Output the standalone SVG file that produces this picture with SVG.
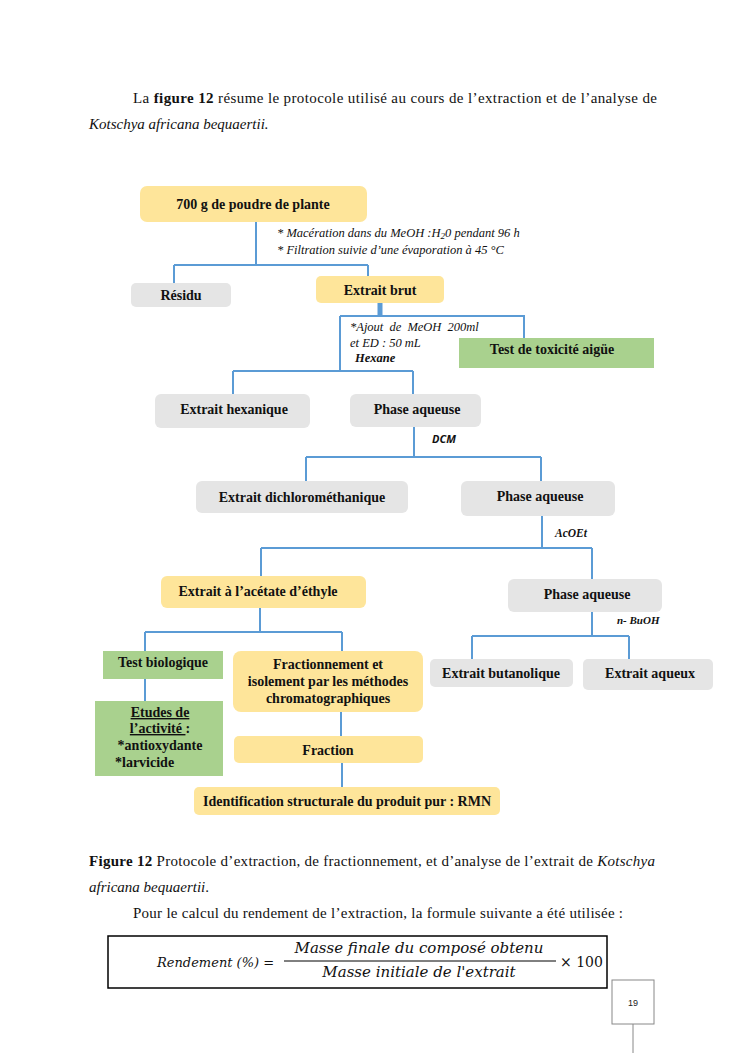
<svg xmlns="http://www.w3.org/2000/svg" width="745" height="1053" viewBox="0 0 745 1053">
<style>
.body{font-family:"Liberation Serif",serif;font-size:15px;fill:#111}
.n{font-family:"Liberation Serif",serif;font-size:14px;font-weight:bold;fill:#111;text-anchor:middle}
.note{font-family:"Liberation Serif",serif;font-size:12.5px;font-style:italic;fill:#111}
.y{fill:#FEE59A}
.g{fill:#E5E5E5}
.gr{fill:#A9D18E}
.c{stroke:#5B9BD5;stroke-width:2;fill:none}
.math{font-family:"DejaVu Serif","Liberation Serif",serif;font-style:italic;font-size:15px;fill:#111}
</style>
<rect width="745" height="1053" fill="#fff"/>
<text class="body" x="133" y="103" textLength="524" lengthAdjust="spacing">La <tspan font-weight="bold">figure 12</tspan> résume le protocole utilisé  au cours de  l’extraction et de l’analyse de</text>
<text class="body" x="89" y="129" font-style="italic">Kotschya africana bequaertii.</text>

<g id="connectors">
<path class="c" d="M256 222V265M174 265H368M174 265V283M368 265V276"/>
<path d="M380 303V316" stroke="#5B9BD5" stroke-width="5" fill="none"/>
<path class="c" d="M340 316H524V338M340 316V371M233 371H413M233 371V394M413 371V394"/>
<path class="c" d="M414 427V457M306 457H541M306 457V481M541 457V481"/>
<path class="c" d="M542 516V548M261 548H592M261 548V576M592 548V579"/>
<path class="c" d="M260 608V632M145 632H342M145 632V651M342 632V651"/>
<path class="c" d="M592 612V636M472 636H629M472 636V659M629 636V659"/>
<path class="c" d="M145 679V701M341 712V736M342 763V787"/>
</g>

<g id="n-poudre"><rect class="y" x="140" y="186" width="227" height="36" rx="7"/><text class="n" x="253" y="209">700 g de poudre de plante</text></g>
<g id="note1">
<text class="note" x="277" y="237">*  Macération dans du MeOH :H<tspan font-size="9" dy="2">2</tspan><tspan dy="-2">0 pendant 96 h</tspan></text>
<text class="note" x="277" y="254">*  Filtration suivie d’une évaporation à 45 °C</text>
</g>
<g id="n-residu"><rect class="g" x="131" y="283" width="100" height="24" rx="5"/><text class="n" x="181" y="300">Résidu</text></g>
<g id="n-brut"><rect class="y" x="316" y="276" width="128" height="27" rx="5"/><text class="n" x="380" y="295">Extrait brut</text></g>
<g id="note2">
<text class="note" x="350" y="331" word-spacing="3">*Ajout de MeOH 200ml</text>
<text class="note" x="350" y="347">et ED : 50 mL</text>
<text class="note" x="355" y="362" font-weight="bold">Hexane</text>
</g>
<g id="n-toxicite"><rect class="gr" x="459" y="338" width="195" height="30"/><text class="n" x="552" y="354">Test de toxicité  aigüe</text></g>
<g id="n-hexanique"><rect class="g" x="155" y="394" width="155" height="34" rx="6"/><text class="n" x="234" y="414">Extrait hexanique</text></g>
<g id="n-pa1"><rect class="g" x="350" y="394" width="131" height="33" rx="6"/><text class="n" x="417" y="414">Phase aqueuse</text></g>
<text x="432" y="443" font-family="'Open Sans','Liberation Sans',sans-serif" font-size="11" font-weight="bold" font-style="italic" fill="#111">DCM</text>
<g id="n-dcm"><rect class="g" x="196" y="481" width="212" height="32" rx="6"/><text class="n" x="302" y="502">Extrait dichlorométhanique</text></g>
<g id="n-pa2"><rect class="g" x="461" y="481" width="154" height="35" rx="6"/><text class="n" x="540" y="501">Phase aqueuse</text></g>
<text x="555" y="537" font-family="'Liberation Serif',serif" font-size="11.5" font-weight="bold" font-style="italic" fill="#111">AcOEt</text>
<g id="n-acetate"><rect class="y" x="161" y="576" width="205" height="32" rx="6"/><text class="n" x="258" y="596">Extrait à l’acétate d’éthyle</text></g>
<g id="n-pa3"><rect class="g" x="508" y="579" width="154" height="33" rx="6"/><text class="n" x="587" y="599">Phase aqueuse</text></g>
<text x="617" y="624" font-family="'Liberation Serif',serif" font-size="11" font-weight="bold" font-style="italic" fill="#111">n- BuOH</text>
<g id="n-testbio"><rect class="gr" x="103" y="651" width="120" height="28"/><text class="n" x="163" y="667">Test biologique</text></g>
<g id="n-etudes"><rect class="gr" x="95" y="701" width="128" height="75"/>
<text class="n" x="160" y="717" text-decoration="underline">Etudes de</text>
<text class="n" x="160" y="733"><tspan text-decoration="underline">l’activité </tspan>:</text>
<text class="n" x="160" y="750">*antioxydante</text>
<text x="115" y="767" font-family="'Liberation Serif',serif" font-size="14" font-weight="bold" fill="#111">*larvicide</text>
</g>
<g id="n-fraction-iso"><rect class="y" x="233" y="651" width="190" height="61" rx="8"/>
<text class="n" x="328" y="669">Fractionnement et</text>
<text class="n" x="328" y="686">isolement par les méthodes</text>
<text class="n" x="328" y="703">chromatographiques</text>
</g>
<g id="n-fraction"><rect class="y" x="234" y="736" width="189" height="27" rx="5"/><text class="n" x="328" y="755">Fraction</text></g>
<g id="n-rmn"><rect class="y" x="194" y="787" width="306" height="28" rx="5"/><text class="n" x="347" y="806">Identification structurale du produit pur : RMN</text></g>
<g id="n-butanol"><rect class="g" x="430" y="659" width="143" height="28" rx="5"/><text class="n" x="501" y="678">Extrait butanolique</text></g>
<g id="n-aqueux"><rect class="g" x="583" y="659" width="130" height="31" rx="5"/><text class="n" x="650" y="678">Extrait aqueux</text></g>

<text class="body" x="89" y="866" textLength="566" lengthAdjust="spacing"><tspan font-weight="bold">Figure 12</tspan>  Protocole d’extraction, de fractionnement, et d’analyse de l’extrait de <tspan font-style="italic">Kotschya</tspan></text>
<text class="body" x="89" y="892" font-style="italic">africana bequaertii<tspan font-style="normal">.</tspan></text>
<text class="body" x="133" y="918" textLength="490" lengthAdjust="spacing">Pour le calcul du rendement de l’extraction, la formule suivante a été utilisée :</text>

<g id="formula">
<rect x="108" y="936" width="499" height="52" fill="none" stroke="#000" stroke-width="1.5"/>
<text class="math" x="157" y="967" style="font-size:13px">Rendement (%) =</text>
<text class="math" x="419" y="953" text-anchor="middle">Masse  finale du composé  obtenu</text>
<line x1="284" y1="961" x2="556" y2="961" stroke="#000" stroke-width="1"/>
<text class="math" x="419" y="977" text-anchor="middle">Masse initiale de l'extrait</text>
<text class="math" x="560" y="967" style="font-style:normal;font-size:14px">× 100</text>
</g>
<g id="page">
<rect x="612" y="980" width="42" height="44" fill="none" stroke="#888" stroke-width="1"/>
<text x="633" y="1006" font-family="'Liberation Sans',sans-serif" font-size="9" fill="#222" text-anchor="middle">19</text>
<line x1="633" y1="1024" x2="633" y2="1053" stroke="#888" stroke-width="1"/>
</g>
</svg>
